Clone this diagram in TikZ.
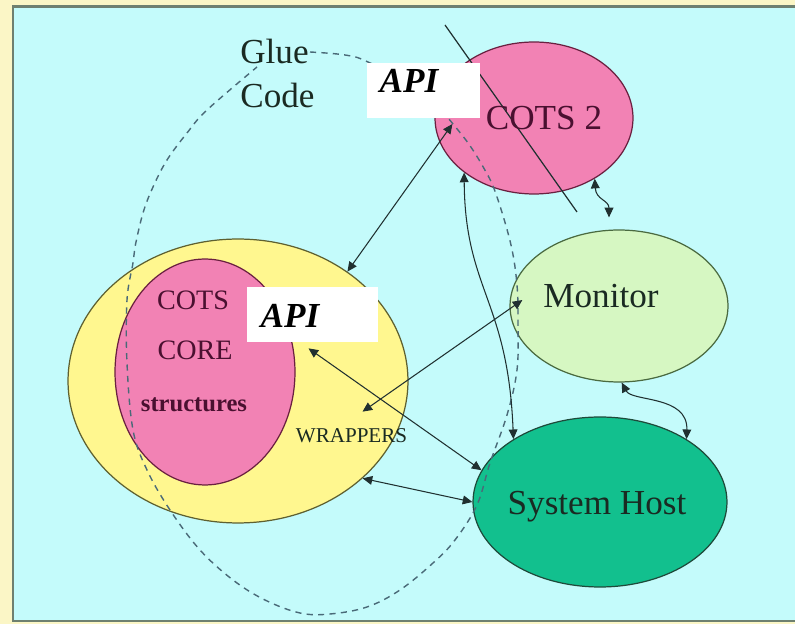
\documentclass[tikz,border=0pt]{standalone}
\usepackage{fontspec}
\setmainfont{Liberation Serif}
\usetikzlibrary{shapes.geometric,arrows.meta,calc}
\definecolor{pagebg}{HTML}{FBF6C6}
\definecolor{panelc}{HTML}{C4FBFB}
\definecolor{panelb}{HTML}{6E8070}
\definecolor{yelc}{HTML}{FFF78F}
\definecolor{yelb}{HTML}{5E6030}
\definecolor{pinkc}{HTML}{F282B4}
\definecolor{pinkb}{HTML}{6A2040}
\definecolor{monc}{HTML}{D6F7C2}
\definecolor{monb}{HTML}{4A6A40}
\definecolor{hostc}{HTML}{12C08E}
\definecolor{hostb}{HTML}{1E4A3A}
\definecolor{linec}{HTML}{203030}
\definecolor{gluec}{HTML}{4A6A78}
\definecolor{maroon}{HTML}{4A1030}
\definecolor{darkt}{HTML}{1A2A22}
\begin{document}
\begin{tikzpicture}[x=0.02cm,y=-0.02cm,
  ell/.style={ellipse, draw, inner sep=0pt, line width=0.7pt},
  lbl/.style={inner sep=0pt, anchor=base},
  apibox/.style={rectangle, fill=white, draw=none, inner sep=0pt},
  conn/.style={{Triangle[length=5.5pt,width=5pt]}-{Triangle[length=5.5pt,width=5pt]}, line width=0.6pt, draw=linec},
  gluepath/.style={draw=gluec, line width=0.8pt, dash pattern=on 3.5pt off 3pt}]
\path[use as bounding box] (0,0) rectangle (795,624);
\fill[pagebg] (0,0) rectangle (795,624);
\fill[panelc] (13,7) rectangle (795,621);
\draw[panelb, line width=1.7pt] (795,7) -- (13,7) -- (13,621) -- (795,621);
% ellipses
\node[ell, fill=yelc, draw=yelb, minimum width=6.8cm, minimum height=5.68cm] (wrap) at (238,381) {};
\node[ell, fill=pinkc, draw=pinkb, minimum width=3.6cm, minimum height=4.52cm] (core) at (205,372) {};
\node[ell, fill=pinkc, draw=pinkb, minimum width=3.96cm, minimum height=3.04cm] (cots2) at (534,118) {};
\node[ell, fill=monc, draw=monb, minimum width=4.36cm, minimum height=3.04cm] (monitor) at (619,306) {};
\node[ell, fill=hostc, draw=hostb, minimum width=5.08cm, minimum height=3.4cm] (host) at (600,502) {};
% glue code dashed loop
\draw[gluepath] plot[smooth, tension=0.6] coordinates {(310,52) (345,55) (368,62) (420,90) (462,135) (486,172) (497,197) (511,245) (517,285) (518,323) (517,370) (507,415) (490,463) (477,505) (455,540) (433,563) (400,590) (367,607) (330,614) (300,613) (265,600) (233,580) (200,550) (170,510) (147,470) (133,430) (127,363) (127,300) (133,263) (135,247) (143,213) (153,187) (167,160) (187,133) (207,110) (257,67)};
% diagonal line
\coordinate (slashA) at (445,25);
\coordinate (slashB) at (577,212);
\draw[linec, line width=0.7pt] (slashA) -- (slashB);
% API boxes
\node[apibox, minimum width=2.26cm, minimum height=1.1cm] (apiup) at (423.5,90.5) {};
\node[apibox, minimum width=2.62cm, minimum height=1.1cm] (apilo) at (312.5,314.5) {};
% texts
\node[lbl, font=\fontsize{20}{24}\selectfont\bfseries\itshape] (apiupt) at (409,93) {API};
\node[lbl, font=\fontsize{20}{24}\selectfont\bfseries\itshape] (apilot) at (290,328) {API};
\node[lbl, font=\fontsize{20}{24}\selectfont, text=maroon] (cots2t) at (544,130) {COTS 2};
\node[lbl, font=\fontsize{20}{24}\selectfont, text=darkt] (mont) at (601,308) {Monitor};
\node[lbl, font=\fontsize{20}{24}\selectfont, text=darkt] (hostt) at (597,515) {System Host};
\node[inner sep=0pt, anchor=base west, align=left, font=\fontsize{20}{25.5}\selectfont, text=darkt] (gluet) at (240,108) {Glue\\Code};
\node[lbl, font=\fontsize{16}{19}\selectfont, text=maroon] (coret1) at (193,310) {COTS};
\node[lbl, font=\fontsize{16}{19}\selectfont, text=maroon] (coret2) at (195,360) {CORE};
\node[lbl, font=\fontsize{14}{17}\selectfont\bfseries, text=maroon] (coret3) at (194,412) {structures};
\node[lbl, font=\fontsize{12}{14}\selectfont, text=darkt] (wrapt) at (351.5,443) {WRAPPERS};
% connectors
\draw[conn] (wrap.45) -- ($(cots2.west)+(18,6)$);
\draw[conn] ($(monitor.west)+(13,-6)$) -- ($(wrapt.north)+(11,-17)$);
\draw[conn] ($(apilo.south)+(-4,6)$) -- (host.165);
\draw[conn] (wrap.-38) -- (host.west);
\draw[conn] (cots2.-142) .. controls (465,290) and (508,300) .. (host.144);
\draw[conn] (cots2.-45) .. controls (596,200) and (609,200) .. ($(monitor.north)+(-10,-12)$);
\draw[conn] (monitor.-88) .. controls (632,402) and (688,395) .. (host.36);
\end{tikzpicture}
\end{document}
